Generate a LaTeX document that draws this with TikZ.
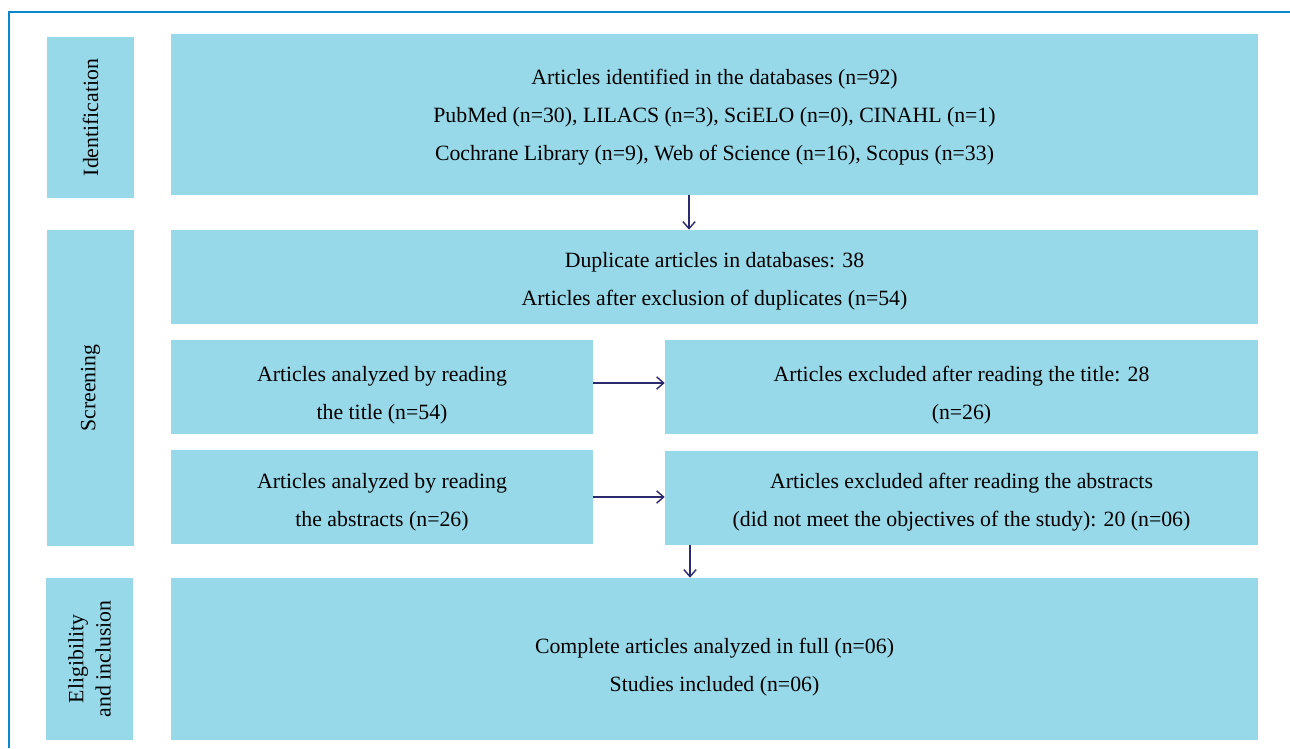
\documentclass[tikz,border=0pt]{standalone}
\usepackage{fontspec}
\setmainfont{Liberation Serif}
\usetikzlibrary{arrows.meta,calc}

\definecolor{boxcyan}{HTML}{98D9E9}
\definecolor{arrnavy}{HTML}{2B2A6E}
\definecolor{framebl}{HTML}{0A88CF}

\tikzset{
    % #1 = text height above the last line, sets where the text sits in the box
    stage/.style={fill=boxcyan, inner sep=0pt, align=center,
        font=\fontsize{12.4}{21.6}\selectfont,
        text height=#1, text depth=3pt},
    stage/.default=36pt,
    sidelab/.style={fill=boxcyan, inner sep=0pt, align=center, rotate=90,
        minimum height=1.74cm, font=\fontsize{12.4}{15.5}\selectfont},
    flow/.style={draw=arrnavy, line width=0.8pt, -{Straight Barb[length=4pt,width=7pt]}}
}

\begin{document}
\begin{tikzpicture}[x=0.02cm, y=-0.02cm]
    \useasboundingbox (0,0) rectangle (1290,748);

    % Frame
    \draw[framebl, line width=1.1pt] (9,748) -- (9,12) -- (1290,12);

    % Phase labels
    \node[sidelab, minimum width=3.22cm] (idlab) at (90.5,117.5) {Identification};
    \node[sidelab, minimum width=6.32cm] (sclab) at (90.5,388) {Screening};
    \node[sidelab, minimum width=3.24cm] (ellab) at (89.5,659) {Eligibility\\and inclusion};

    % Identification
    \node[stage=55.7pt, minimum width=21.74cm, minimum height=3.22cm] (idbox) at (714.5,114.5)
        {Articles identified in the databases (n=92)\\
         PubMed (n=30), LILACS (n=3), SciELO (n=0), CINAHL (n=1)\\
         Cochrane Library (n=9), Web of Science (n=16), Scopus (n=33)};

    % Screening
    \node[stage=35.9pt, minimum width=21.74cm, minimum height=1.88cm] (dup) at (714.5,277)
        {Duplicate articles in databases: 38\\
         Articles after exclusion of duplicates (n=54)};
    \node[stage=39.8pt, minimum width=8.44cm, minimum height=1.88cm] (title) at (382,387)
        {Articles analyzed by reading\\the title (n=54)};
    \node[stage=39.8pt, minimum width=11.86cm, minimum height=1.88cm] (extitle) at (961.5,387)
        {Articles excluded after reading the title: 28\\(n=26)};
    \node[stage=37pt, minimum width=8.44cm, minimum height=1.88cm] (abstr) at (382,497)
        {Articles analyzed by reading\\the abstracts (n=26)};
    \node[stage=36.4pt, minimum width=11.86cm, minimum height=1.88cm] (exabstr) at (961.5,497.5)
        {Articles excluded after reading the abstracts\\
         (did not meet the objectives of the study): 20 (n=06)};

    % Eligibility and inclusion
    \node[stage=40.4pt, minimum width=21.74cm, minimum height=3.24cm] (elbox) at (714.5,659)
        {Complete articles analyzed in full (n=06)\\Studies included (n=06)};

    % Arrows
    \draw[flow] ([xshift=-0.51cm]idbox.south) -- ([xshift=-0.51cm]idbox.south |- dup.north);
    \draw[flow] ([yshift=0.08cm]title.east) -- ([yshift=0.08cm]extitle.west);
    \draw[flow] (abstr.east) -- (exabstr.west |- abstr.east);
    \draw[flow] ([xshift=-0.49cm]exabstr.south -| elbox.north) -- ([xshift=-0.49cm]elbox.north);
\end{tikzpicture}
\end{document}
